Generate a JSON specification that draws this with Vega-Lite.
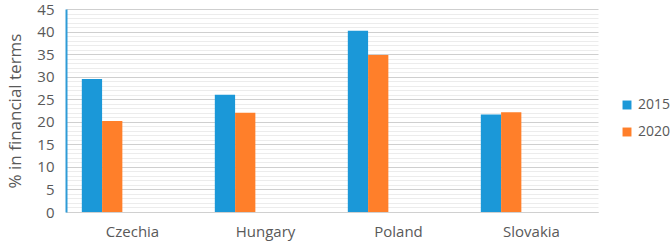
{
  "$schema": "https://vega.github.io/schema/vega-lite/v6.json",
  "width": 532,
  "height": 203,
  "autosize": {"type": "none"},
  "padding": {"left": 66, "top": 9, "right": 73, "bottom": 30},
  "background": "white",
  "config": {
    "font": "Open Sans",
    "view": {"stroke": null}
  },
  "data": {
    "values": [
      {"country": "Czechia", "year": "2015", "value": 29.5},
      {"country": "Czechia", "year": "2020", "value": 20.2},
      {"country": "Hungary", "year": "2015", "value": 26.0},
      {"country": "Hungary", "year": "2020", "value": 22.0},
      {"country": "Poland", "year": "2015", "value": 40.2},
      {"country": "Poland", "year": "2020", "value": 34.8},
      {"country": "Slovakia", "year": "2015", "value": 21.6},
      {"country": "Slovakia", "year": "2020", "value": 22.1}
    ]
  },
  "mark": {"type": "bar"},
  "encoding": {
    "x": {
      "field": "country",
      "type": "nominal",
      "sort": null,
      "scale": {"paddingInner": 0, "paddingOuter": 0},
      "axis": {
        "title": null,
        "labelAngle": 0,
        "labelFontSize": 15,
        "labelColor": "#595959",
        "labelPadding": 12,
        "ticks": false,
        "domain": true,
        "domainColor": "#d0d0d0",
        "grid": false
      }
    },
    "xOffset": {
      "field": "year",
      "scale": {"domain": ["2015", "2020", "s3", "s4", "s5"], "paddingInner": 0, "paddingOuter": 0.78}
    },
    "y": {
      "field": "value",
      "type": "quantitative",
      "scale": {"domain": [0, 45], "nice": false},
      "axis": {
        "title": "% in financial terms",
        "titleFontSize": 17,
        "titleFontWeight": "normal",
        "titleColor": "#595959",
        "titlePadding": 12,
        "values": [0,1,2,3,4,5,6,7,8,9,10,11,12,13,14,15,16,17,18,19,20,21,22,23,24,25,26,27,28,29,30,31,32,33,34,35,36,37,38,39,40,41,42,43,44,45],
        "labelExpr": "datum.value % 5 === 0 ? datum.label : ''",
        "labelFontSize": 15,
        "labelColor": "#595959",
        "labelPadding": 12,
        "ticks": false,
        "domainColor": "#2E9BD6",
        "domainWidth": 2,
        "grid": true,
        "gridColor": {"condition": {"test": "datum.value % 5 === 0", "value": "#cfcfcf"}, "value": "#ececec"},
        "gridWidth": 1
      }
    },
    "color": {
      "field": "year",
      "type": "nominal",
      "scale": {"domain": ["2015", "2020"], "range": ["#1B98D8", "#FF7F2A"]},
      "legend": {
        "title": null,
        "orient": "none",
        "legendX": 554,
        "legendY": 89,
        "symbolType": "square",
        "symbolSize": 80,
        "symbolStrokeWidth": 0,
        "labelFontSize": 14,
        "labelColor": "#595959",
        "rowPadding": 13,
        "padding": 0
      }
    }
  }
}
